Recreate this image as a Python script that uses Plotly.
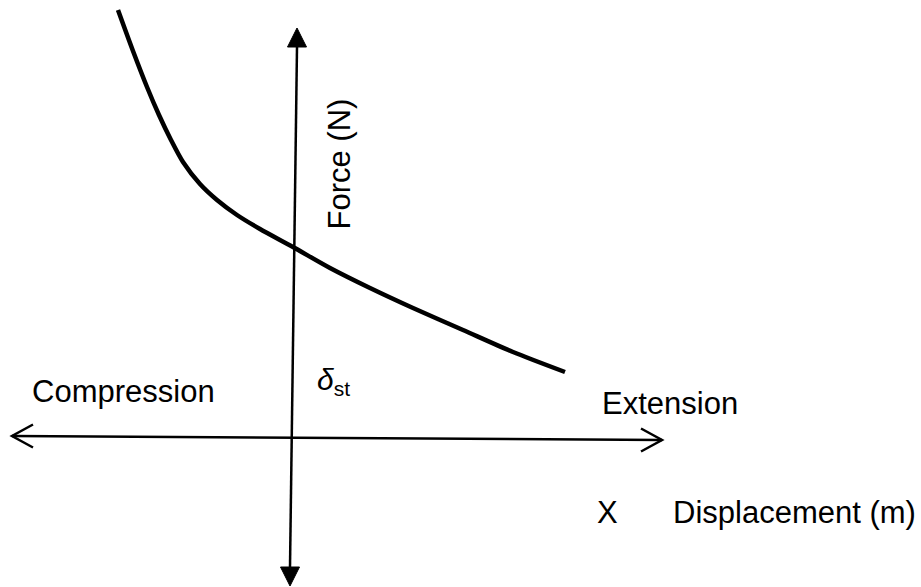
import plotly.graph_objects as go

# Curve data (displacement, force) in arbitrary units, origin at axis crossing
displacement = [-1.74, -1.59, -1.45, -1.33, -1.21, -1.09, -0.92, -0.75, -0.55, -0.32,
                0.01, 0.38, 0.78, 1.21, 1.71, 2.21, 2.73]
force = [4.28, 3.87, 3.51, 3.23, 2.98, 2.76, 2.54, 2.38, 2.23, 2.09,
         1.91, 1.70, 1.50, 1.30, 1.08, 0.86, 0.66]

# Axis extents (same units)
X_RANGE = [-2.92, 6.29]
Y_RANGE = [-1.49, 4.38]
H_LEFT, H_RIGHT = -2.80, 3.70          # horizontal arrow tips
H_Y_LEFT, H_Y_RIGHT = 0.02, -0.02
V_TOP, V_BOTTOM = 4.10, -1.48          # vertical arrow tips
V_X_TOP, V_X_BOTTOM = 0.05, -0.02

FONT = "Liberation Sans, Arial, Helvetica, sans-serif"
BLACK = "#000000"

fig = go.Figure()
fig.add_trace(go.Scatter(x=displacement, y=force, mode="lines",
                         line=dict(color=BLACK, width=4.5, shape="spline", smoothing=0.8),
                         hoverinfo="skip", showlegend=False))

shapes = []
# horizontal axis
shapes.append(dict(type="line", x0=H_LEFT, y0=H_Y_LEFT, x1=H_RIGHT, y1=H_Y_RIGHT,
                   line=dict(color=BLACK, width=2.5)))
# open chevrons
cl, ch = 0.21, 0.115
shapes.append(dict(type="path",
                   path=f"M{H_LEFT+cl},{H_Y_LEFT+ch} L{H_LEFT},{H_Y_LEFT} L{H_LEFT+cl},{H_Y_LEFT-ch}",
                   line=dict(color=BLACK, width=2.5)))
shapes.append(dict(type="path",
                   path=f"M{H_RIGHT-cl},{H_Y_RIGHT+ch} L{H_RIGHT},{H_Y_RIGHT} L{H_RIGHT-cl},{H_Y_RIGHT-ch}",
                   line=dict(color=BLACK, width=2.5)))
# vertical axis
tl, tw = 0.19, 0.095
shapes.append(dict(type="line", x0=V_X_TOP, y0=V_TOP - tl, x1=V_X_BOTTOM, y1=V_BOTTOM + tl,
                   line=dict(color=BLACK, width=2.5)))
shapes.append(dict(type="path",
                   path=f"M{V_X_TOP-tw},{V_TOP-tl} L{V_X_TOP+tw},{V_TOP-tl} L{V_X_TOP},{V_TOP} Z",
                   fillcolor=BLACK, line=dict(color=BLACK, width=1)))
shapes.append(dict(type="path",
                   path=f"M{V_X_BOTTOM-tw},{V_BOTTOM+tl} L{V_X_BOTTOM+tw},{V_BOTTOM+tl} L{V_X_BOTTOM},{V_BOTTOM} Z",
                   fillcolor=BLACK, line=dict(color=BLACK, width=1)))

def ann(text, x, y, size=31, angle=0):
    return dict(text=text, x=x, y=y, xref="x", yref="y", showarrow=False,
                font=dict(family=FONT, size=size, color=BLACK),
                xanchor="center", yanchor="middle", textangle=angle)

annotations = [
    ann("Compression", -1.685, 0.47),
    ann("Extension", 3.775, 0.35),
    ann("X", 3.15, -0.74),
    ann("Displacement (m)", 5.02, -0.74),
    ann("Force (N)", 0.47, 2.735, angle=-90),
    ann("<i>δ</i><sub>st</sub>", 0.41, 0.57, size=30),
]

fig.update_layout(
    width=921, height=587, margin=dict(l=0, r=0, t=0, b=0),
    paper_bgcolor="white", plot_bgcolor="white",
    xaxis=dict(range=X_RANGE, visible=False, fixedrange=True),
    yaxis=dict(range=Y_RANGE, visible=False, fixedrange=True),
    shapes=shapes, annotations=annotations, showlegend=False,
)
fig.write_html("out.html", config={"displayModeBar": False},
               post_script="document.body.style.margin='0';document.body.style.overflow='hidden';")
